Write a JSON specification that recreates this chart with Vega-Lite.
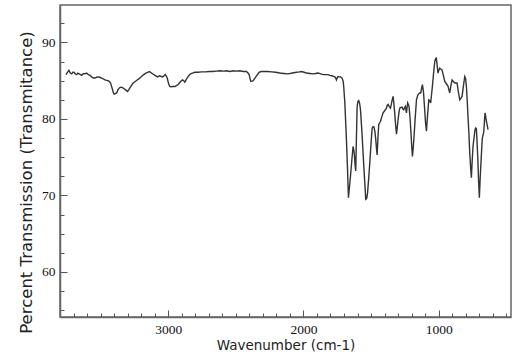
{
  "$schema": "https://vega.github.io/schema/vega-lite/v6.json",
  "width": 451,
  "height": 312,
  "autosize": "none",
  "padding": {"left": 60, "top": 5, "right": 14, "bottom": 46},
  "background": "white",
  "config": {
    "view": {"stroke": "#666", "strokeWidth": 1.5},
    "axis": {
      "grid": false,
      "domainColor": "#666",
      "domainWidth": 1.5,
      "tickColor": "#555",
      "tickWidth": 1,
      "labelFont": "Liberation Serif",
      "labelFontSize": 13.5,
      "labelColor": "#111",
      "titleFont": "DejaVu Sans",
      "titleFontWeight": "normal",
      "titleColor": "#222"
    }
  },
  "data": {
    "values": [
      {"wavenumber": 3756, "transmittance": 85.8},
      {"wavenumber": 3745, "transmittance": 86.1},
      {"wavenumber": 3734, "transmittance": 86.35},
      {"wavenumber": 3724, "transmittance": 86.0},
      {"wavenumber": 3714, "transmittance": 85.9},
      {"wavenumber": 3705, "transmittance": 86.1},
      {"wavenumber": 3697, "transmittance": 86.1},
      {"wavenumber": 3687, "transmittance": 85.9},
      {"wavenumber": 3677, "transmittance": 85.8},
      {"wavenumber": 3668, "transmittance": 86.0},
      {"wavenumber": 3658, "transmittance": 85.9},
      {"wavenumber": 3648, "transmittance": 85.8},
      {"wavenumber": 3640, "transmittance": 85.7},
      {"wavenumber": 3628, "transmittance": 85.9},
      {"wavenumber": 3616, "transmittance": 85.9},
      {"wavenumber": 3603, "transmittance": 86.0},
      {"wavenumber": 3591, "transmittance": 85.8},
      {"wavenumber": 3578, "transmittance": 85.7},
      {"wavenumber": 3566, "transmittance": 85.5},
      {"wavenumber": 3554, "transmittance": 85.35},
      {"wavenumber": 3542, "transmittance": 85.35},
      {"wavenumber": 3530, "transmittance": 85.45},
      {"wavenumber": 3517, "transmittance": 85.5},
      {"wavenumber": 3505, "transmittance": 85.45},
      {"wavenumber": 3492, "transmittance": 85.35},
      {"wavenumber": 3480, "transmittance": 85.25},
      {"wavenumber": 3468, "transmittance": 85.1},
      {"wavenumber": 3455, "transmittance": 85.05},
      {"wavenumber": 3443, "transmittance": 85.0},
      {"wavenumber": 3434, "transmittance": 84.85},
      {"wavenumber": 3426, "transmittance": 84.7},
      {"wavenumber": 3418, "transmittance": 84.2},
      {"wavenumber": 3411, "transmittance": 83.8},
      {"wavenumber": 3405, "transmittance": 83.4},
      {"wavenumber": 3399, "transmittance": 83.25},
      {"wavenumber": 3390, "transmittance": 83.3},
      {"wavenumber": 3381, "transmittance": 83.4},
      {"wavenumber": 3372, "transmittance": 83.8},
      {"wavenumber": 3362, "transmittance": 84.05},
      {"wavenumber": 3350, "transmittance": 84.15},
      {"wavenumber": 3337, "transmittance": 84.1},
      {"wavenumber": 3326, "transmittance": 83.95},
      {"wavenumber": 3315, "transmittance": 83.8},
      {"wavenumber": 3300, "transmittance": 83.6},
      {"wavenumber": 3292, "transmittance": 83.8},
      {"wavenumber": 3283, "transmittance": 84.05},
      {"wavenumber": 3271, "transmittance": 84.4},
      {"wavenumber": 3259, "transmittance": 84.7},
      {"wavenumber": 3244, "transmittance": 84.9},
      {"wavenumber": 3229, "transmittance": 85.1},
      {"wavenumber": 3213, "transmittance": 85.3},
      {"wavenumber": 3197, "transmittance": 85.55},
      {"wavenumber": 3181, "transmittance": 85.8},
      {"wavenumber": 3165, "transmittance": 86.0},
      {"wavenumber": 3152, "transmittance": 86.1},
      {"wavenumber": 3140, "transmittance": 86.2},
      {"wavenumber": 3131, "transmittance": 86.1},
      {"wavenumber": 3123, "transmittance": 86.0},
      {"wavenumber": 3110, "transmittance": 85.85},
      {"wavenumber": 3098, "transmittance": 85.7},
      {"wavenumber": 3088, "transmittance": 85.6},
      {"wavenumber": 3078, "transmittance": 85.5},
      {"wavenumber": 3070, "transmittance": 85.6},
      {"wavenumber": 3061, "transmittance": 85.65},
      {"wavenumber": 3051, "transmittance": 85.55},
      {"wavenumber": 3041, "transmittance": 85.5},
      {"wavenumber": 3031, "transmittance": 85.65},
      {"wavenumber": 3022, "transmittance": 85.8},
      {"wavenumber": 3014, "transmittance": 85.6},
      {"wavenumber": 3007, "transmittance": 85.35},
      {"wavenumber": 3001, "transmittance": 84.9},
      {"wavenumber": 2995, "transmittance": 84.5},
      {"wavenumber": 2988, "transmittance": 84.25},
      {"wavenumber": 2982, "transmittance": 84.2},
      {"wavenumber": 2966, "transmittance": 84.25},
      {"wavenumber": 2950, "transmittance": 84.25},
      {"wavenumber": 2938, "transmittance": 84.35},
      {"wavenumber": 2926, "transmittance": 84.5},
      {"wavenumber": 2917, "transmittance": 84.7},
      {"wavenumber": 2908, "transmittance": 84.9},
      {"wavenumber": 2894, "transmittance": 85.1},
      {"wavenumber": 2885, "transmittance": 85.0},
      {"wavenumber": 2877, "transmittance": 84.8},
      {"wavenumber": 2868, "transmittance": 85.1},
      {"wavenumber": 2860, "transmittance": 85.35},
      {"wavenumber": 2848, "transmittance": 85.65},
      {"wavenumber": 2835, "transmittance": 85.9},
      {"wavenumber": 2820, "transmittance": 86.0},
      {"wavenumber": 2803, "transmittance": 86.1},
      {"wavenumber": 2778, "transmittance": 86.1},
      {"wavenumber": 2753, "transmittance": 86.15},
      {"wavenumber": 2725, "transmittance": 86.15},
      {"wavenumber": 2697, "transmittance": 86.2},
      {"wavenumber": 2670, "transmittance": 86.2},
      {"wavenumber": 2644, "transmittance": 86.25},
      {"wavenumber": 2618, "transmittance": 86.3},
      {"wavenumber": 2590, "transmittance": 86.25},
      {"wavenumber": 2570, "transmittance": 86.3},
      {"wavenumber": 2544, "transmittance": 86.2},
      {"wavenumber": 2520, "transmittance": 86.3},
      {"wavenumber": 2495, "transmittance": 86.25},
      {"wavenumber": 2470, "transmittance": 86.3},
      {"wavenumber": 2445, "transmittance": 86.2},
      {"wavenumber": 2421, "transmittance": 86.2},
      {"wavenumber": 2410, "transmittance": 86.0},
      {"wavenumber": 2401, "transmittance": 85.8},
      {"wavenumber": 2395, "transmittance": 85.3},
      {"wavenumber": 2389, "transmittance": 84.9},
      {"wavenumber": 2380, "transmittance": 84.95},
      {"wavenumber": 2372, "transmittance": 85.0},
      {"wavenumber": 2362, "transmittance": 85.25},
      {"wavenumber": 2352, "transmittance": 85.5},
      {"wavenumber": 2340, "transmittance": 85.8},
      {"wavenumber": 2328, "transmittance": 86.1},
      {"wavenumber": 2313, "transmittance": 86.2},
      {"wavenumber": 2298, "transmittance": 86.2},
      {"wavenumber": 2268, "transmittance": 86.2},
      {"wavenumber": 2236, "transmittance": 86.15},
      {"wavenumber": 2205, "transmittance": 86.1},
      {"wavenumber": 2175, "transmittance": 86.0},
      {"wavenumber": 2145, "transmittance": 85.95},
      {"wavenumber": 2113, "transmittance": 85.9},
      {"wavenumber": 2082, "transmittance": 86.0},
      {"wavenumber": 2051, "transmittance": 86.1},
      {"wavenumber": 2030, "transmittance": 86.15},
      {"wavenumber": 2014, "transmittance": 86.2},
      {"wavenumber": 1995, "transmittance": 86.1},
      {"wavenumber": 1977, "transmittance": 86.0},
      {"wavenumber": 1952, "transmittance": 85.95},
      {"wavenumber": 1928, "transmittance": 85.9},
      {"wavenumber": 1910, "transmittance": 85.95},
      {"wavenumber": 1891, "transmittance": 86.0},
      {"wavenumber": 1872, "transmittance": 85.9},
      {"wavenumber": 1855, "transmittance": 85.8},
      {"wavenumber": 1836, "transmittance": 85.8},
      {"wavenumber": 1818, "transmittance": 85.8},
      {"wavenumber": 1805, "transmittance": 85.7},
      {"wavenumber": 1793, "transmittance": 85.65},
      {"wavenumber": 1780, "transmittance": 85.6},
      {"wavenumber": 1768, "transmittance": 85.5},
      {"wavenumber": 1760, "transmittance": 85.3},
      {"wavenumber": 1756, "transmittance": 85.1},
      {"wavenumber": 1750, "transmittance": 85.4},
      {"wavenumber": 1744, "transmittance": 85.55},
      {"wavenumber": 1735, "transmittance": 85.5},
      {"wavenumber": 1726, "transmittance": 85.5},
      {"wavenumber": 1718, "transmittance": 85.4},
      {"wavenumber": 1711, "transmittance": 85.2},
      {"wavenumber": 1706, "transmittance": 84.9},
      {"wavenumber": 1702, "transmittance": 84.25},
      {"wavenumber": 1698, "transmittance": 83.2},
      {"wavenumber": 1694, "transmittance": 82.2},
      {"wavenumber": 1688, "transmittance": 79.8},
      {"wavenumber": 1682, "transmittance": 77.3},
      {"wavenumber": 1674, "transmittance": 73.5},
      {"wavenumber": 1667, "transmittance": 69.7},
      {"wavenumber": 1660, "transmittance": 71.0},
      {"wavenumber": 1652, "transmittance": 72.5},
      {"wavenumber": 1642, "transmittance": 74.6},
      {"wavenumber": 1633, "transmittance": 76.4},
      {"wavenumber": 1628, "transmittance": 76.0},
      {"wavenumber": 1623, "transmittance": 75.3},
      {"wavenumber": 1618, "transmittance": 74.0},
      {"wavenumber": 1613, "transmittance": 73.2},
      {"wavenumber": 1608, "transmittance": 77.5},
      {"wavenumber": 1603, "transmittance": 81.6},
      {"wavenumber": 1597, "transmittance": 82.3},
      {"wavenumber": 1591, "transmittance": 82.4},
      {"wavenumber": 1584, "transmittance": 82.0},
      {"wavenumber": 1578, "transmittance": 81.2},
      {"wavenumber": 1568, "transmittance": 78.5},
      {"wavenumber": 1559, "transmittance": 75.6},
      {"wavenumber": 1549, "transmittance": 72.5},
      {"wavenumber": 1539, "transmittance": 69.5},
      {"wavenumber": 1532, "transmittance": 69.6},
      {"wavenumber": 1526, "transmittance": 70.3},
      {"wavenumber": 1517, "transmittance": 72.3},
      {"wavenumber": 1509, "transmittance": 74.3},
      {"wavenumber": 1500, "transmittance": 76.8},
      {"wavenumber": 1492, "transmittance": 78.8},
      {"wavenumber": 1485, "transmittance": 79.0},
      {"wavenumber": 1478, "transmittance": 78.95},
      {"wavenumber": 1471, "transmittance": 78.3},
      {"wavenumber": 1465, "transmittance": 77.3},
      {"wavenumber": 1460, "transmittance": 76.2},
      {"wavenumber": 1455, "transmittance": 75.3},
      {"wavenumber": 1449, "transmittance": 77.5},
      {"wavenumber": 1443, "transmittance": 79.25},
      {"wavenumber": 1436, "transmittance": 79.5},
      {"wavenumber": 1430, "transmittance": 79.7},
      {"wavenumber": 1420, "transmittance": 80.3},
      {"wavenumber": 1411, "transmittance": 80.8},
      {"wavenumber": 1398, "transmittance": 81.1},
      {"wavenumber": 1386, "transmittance": 81.4},
      {"wavenumber": 1380, "transmittance": 81.8},
      {"wavenumber": 1374, "transmittance": 81.9},
      {"wavenumber": 1365, "transmittance": 81.6},
      {"wavenumber": 1356, "transmittance": 81.4},
      {"wavenumber": 1346, "transmittance": 82.3},
      {"wavenumber": 1337, "transmittance": 82.95},
      {"wavenumber": 1331, "transmittance": 82.0},
      {"wavenumber": 1325, "transmittance": 80.8},
      {"wavenumber": 1318, "transmittance": 79.2},
      {"wavenumber": 1312, "transmittance": 78.0},
      {"wavenumber": 1306, "transmittance": 78.9},
      {"wavenumber": 1300, "transmittance": 79.9},
      {"wavenumber": 1294, "transmittance": 80.8},
      {"wavenumber": 1288, "transmittance": 81.4},
      {"wavenumber": 1279, "transmittance": 81.5},
      {"wavenumber": 1271, "transmittance": 81.55},
      {"wavenumber": 1264, "transmittance": 81.3},
      {"wavenumber": 1258, "transmittance": 81.2},
      {"wavenumber": 1252, "transmittance": 81.5},
      {"wavenumber": 1246, "transmittance": 81.65},
      {"wavenumber": 1242, "transmittance": 81.2},
      {"wavenumber": 1238, "transmittance": 80.8},
      {"wavenumber": 1233, "transmittance": 81.6},
      {"wavenumber": 1229, "transmittance": 82.1},
      {"wavenumber": 1224, "transmittance": 81.9},
      {"wavenumber": 1219, "transmittance": 81.65},
      {"wavenumber": 1211, "transmittance": 80.0},
      {"wavenumber": 1204, "transmittance": 78.0},
      {"wavenumber": 1199, "transmittance": 76.4},
      {"wavenumber": 1194, "transmittance": 75.1},
      {"wavenumber": 1188, "transmittance": 76.2},
      {"wavenumber": 1182, "transmittance": 77.7},
      {"wavenumber": 1173, "transmittance": 80.2},
      {"wavenumber": 1164, "transmittance": 82.5},
      {"wavenumber": 1155, "transmittance": 83.1},
      {"wavenumber": 1147, "transmittance": 83.3},
      {"wavenumber": 1140, "transmittance": 83.4},
      {"wavenumber": 1133, "transmittance": 83.4},
      {"wavenumber": 1126, "transmittance": 84.0},
      {"wavenumber": 1120, "transmittance": 84.5},
      {"wavenumber": 1112, "transmittance": 83.5},
      {"wavenumber": 1105, "transmittance": 81.65},
      {"wavenumber": 1097, "transmittance": 79.5},
      {"wavenumber": 1090, "transmittance": 78.4},
      {"wavenumber": 1082, "transmittance": 80.5},
      {"wavenumber": 1073, "transmittance": 82.5},
      {"wavenumber": 1066, "transmittance": 82.4},
      {"wavenumber": 1059, "transmittance": 82.1},
      {"wavenumber": 1052, "transmittance": 83.3},
      {"wavenumber": 1046, "transmittance": 84.3},
      {"wavenumber": 1038, "transmittance": 85.9},
      {"wavenumber": 1029, "transmittance": 87.5},
      {"wavenumber": 1022, "transmittance": 87.9},
      {"wavenumber": 1017, "transmittance": 87.95},
      {"wavenumber": 1011, "transmittance": 87.0},
      {"wavenumber": 1005, "transmittance": 86.0},
      {"wavenumber": 998, "transmittance": 86.4},
      {"wavenumber": 992, "transmittance": 86.65},
      {"wavenumber": 983, "transmittance": 86.5},
      {"wavenumber": 975, "transmittance": 86.4},
      {"wavenumber": 965, "transmittance": 85.7},
      {"wavenumber": 955, "transmittance": 84.9},
      {"wavenumber": 943, "transmittance": 84.6},
      {"wavenumber": 931, "transmittance": 84.3},
      {"wavenumber": 924, "transmittance": 83.8},
      {"wavenumber": 918, "transmittance": 83.4},
      {"wavenumber": 910, "transmittance": 84.3},
      {"wavenumber": 901, "transmittance": 85.1},
      {"wavenumber": 891, "transmittance": 84.9},
      {"wavenumber": 881, "transmittance": 84.7},
      {"wavenumber": 872, "transmittance": 84.7},
      {"wavenumber": 864, "transmittance": 84.7},
      {"wavenumber": 854, "transmittance": 83.5},
      {"wavenumber": 844, "transmittance": 82.5},
      {"wavenumber": 836, "transmittance": 82.7},
      {"wavenumber": 827, "transmittance": 82.95},
      {"wavenumber": 817, "transmittance": 84.3},
      {"wavenumber": 807, "transmittance": 85.55},
      {"wavenumber": 801, "transmittance": 85.3},
      {"wavenumber": 795, "transmittance": 84.3},
      {"wavenumber": 789, "transmittance": 82.5},
      {"wavenumber": 783, "transmittance": 80.3},
      {"wavenumber": 776, "transmittance": 78.0},
      {"wavenumber": 770, "transmittance": 75.55},
      {"wavenumber": 764, "transmittance": 73.8},
      {"wavenumber": 758, "transmittance": 72.3},
      {"wavenumber": 752, "transmittance": 74.5},
      {"wavenumber": 746, "transmittance": 76.4},
      {"wavenumber": 738, "transmittance": 77.6},
      {"wavenumber": 731, "transmittance": 78.6},
      {"wavenumber": 726, "transmittance": 78.8},
      {"wavenumber": 721, "transmittance": 78.7},
      {"wavenumber": 716, "transmittance": 77.0},
      {"wavenumber": 711, "transmittance": 75.1},
      {"wavenumber": 705, "transmittance": 72.0},
      {"wavenumber": 699, "transmittance": 69.7},
      {"wavenumber": 693, "transmittance": 72.2},
      {"wavenumber": 687, "transmittance": 74.3},
      {"wavenumber": 682, "transmittance": 76.0},
      {"wavenumber": 677, "transmittance": 77.5},
      {"wavenumber": 672, "transmittance": 77.9},
      {"wavenumber": 667, "transmittance": 78.2},
      {"wavenumber": 662, "transmittance": 79.5},
      {"wavenumber": 657, "transmittance": 80.8},
      {"wavenumber": 652, "transmittance": 80.3},
      {"wavenumber": 647, "transmittance": 79.7},
      {"wavenumber": 641, "transmittance": 79.2},
      {"wavenumber": 635, "transmittance": 78.6}
    ]
  },
  "mark": {"type": "line", "color": "#333333", "strokeWidth": 1.4, "clip": true},
  "encoding": {
    "x": {
      "field": "wavenumber",
      "type": "quantitative",
      "sort": null,
      "scale": {"domain": [465, 3800], "reverse": true, "nice": false, "zero": false},
      "axis": {
        "title": "Wavenumber (cm-1)",
        "titleFontSize": 13.5,
        "titlePadding": 3,
        "values": [500, 600, 700, 800, 900, 1000, 1100, 1200, 1300, 1400, 1500, 1600, 1700, 1800, 1900, 2000, 2100, 2200, 2300, 2400, 2500, 2600, 2700, 2800, 2900, 3000, 3100, 3200, 3300, 3400, 3500, 3600, 3700],
        "format": "d",
        "labelExpr": "datum.value % 1000 === 0 ? datum.label : ''",
        "tickSize": {"condition": {"test": "datum.value % 1000 === 0", "value": -7}, "value": -4},
        "labelPadding": 12
      }
    },
    "y": {
      "field": "transmittance",
      "type": "quantitative",
      "scale": {"domain": [54.1, 94.9], "nice": false, "zero": false},
      "axis": {
        "title": "Percent Transmission (Transmitance)",
        "titleFontSize": 16.5,
        "titlePadding": 7,
        "titleY": 177,
        "values": [55, 57.5, 60, 62.5, 65, 67.5, 70, 72.5, 75, 77.5, 80, 82.5, 85, 87.5, 90, 92.5],
        "labelExpr": "datum.value % 10 === 0 ? datum.label : ''",
        "tickSize": {"condition": {"test": "datum.value % 10 === 0", "value": -7}, "value": -4},
        "labelPadding": 12
      }
    }
  }
}
